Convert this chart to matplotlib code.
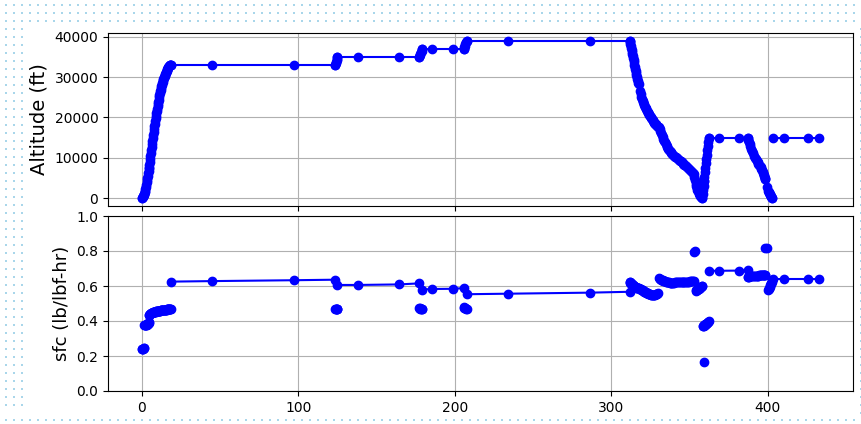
import numpy as np
import matplotlib
matplotlib.use("Agg")
import matplotlib.pyplot as plt

# ---------------- data ----------------
# each mission phase: time (min), altitude (ft), sfc (lb/lbf-hr)
takeoff_t = [0.0, 0.3, 0.6, 0.9, 1.2, 1.5]
takeoff_alt = [0, 100, 250, 450, 700, 1000]
takeoff_sfc = [0.240, 0.240, 0.241, 0.242, 0.243, 0.244]

climb1_t = [1.5, 1.75, 2.0, 2.25, 2.5, 2.75, 3.0, 3.25, 3.5, 3.75, 4.0, 4.25, 4.5]
climb1_alt = [1000, 1400, 1800, 2300, 2800, 3350, 3900, 4450, 5000, 5600, 6200, 6800, 7400]
climb1_sfc = [0.375, 0.375, 0.376, 0.377, 0.378, 0.379, 0.380, 0.381, 0.383, 0.385,
              0.387, 0.389, 0.392]

climb2_t = [4.5, 4.75, 5.0, 5.25, 5.5, 5.75, 6.0, 6.25, 6.5, 6.75, 7.0, 7.25, 7.5, 7.75,
            8.0, 8.25, 8.5, 8.75, 9.0, 9.25, 9.5, 9.75, 10.0, 10.25, 10.5, 10.75, 11.0,
            11.25, 11.5, 11.75, 12.0, 12.25, 12.5, 12.75, 13.0, 13.25, 13.5, 13.75, 14.0,
            14.25, 14.5, 14.75, 15.0, 15.25, 15.5, 15.75, 16.0, 16.25, 16.5, 16.75, 17.0,
            17.25, 17.5, 17.75, 18.0, 18.25, 18.4]
climb2_alt = [7400, 8200, 9000, 9750, 10500, 11250, 12000, 12750, 13500, 14250, 15000,
              15700, 16400, 17100, 17800, 18450, 19100, 19750, 20400, 21000, 21600, 22200,
              22800, 23350, 23900, 24450, 25000, 25500, 26000, 26450, 26900, 27300, 27700,
              28100, 28500, 28850, 29200, 29500, 29800, 30100, 30400, 30650, 30900, 31150,
              31400, 31600, 31800, 32000, 32200, 32350, 32500, 32650, 32800, 32900, 33000,
              33000, 33000]
climb2_sfc = [0.435, 0.437, 0.438, 0.440, 0.441, 0.443, 0.444, 0.446, 0.447, 0.448,
              0.449, 0.450, 0.451, 0.452, 0.453, 0.453, 0.454, 0.454, 0.455, 0.455,
              0.456, 0.456, 0.457, 0.457, 0.458, 0.458, 0.459, 0.459, 0.460, 0.460,
              0.461, 0.461, 0.462, 0.462, 0.462, 0.462, 0.463, 0.463, 0.464, 0.464,
              0.464, 0.464, 0.465, 0.465, 0.465, 0.465, 0.466, 0.466, 0.466, 0.466,
              0.467, 0.467, 0.467, 0.467, 0.468, 0.468, 0.468]

cruise1_t = [18.4, 44.6, 97.2, 123.5]
cruise1_alt = [33000, 33000, 33000, 33000]
cruise1_sfc = [0.625, 0.628, 0.633, 0.636]

step1_t = [123.6, 123.9, 124.2, 124.5, 124.8, 125.0]
step1_alt = [33000, 33400, 33800, 34200, 34600, 35000]
step1_sfc = [0.470, 0.468, 0.467, 0.467, 0.466, 0.466]

cruise2_t = [125.0, 138.0, 164.4, 177.2]
cruise2_alt = [35000, 35000, 35000, 35000]
cruise2_sfc = [0.606, 0.606, 0.609, 0.615]

step2_t = [177.2, 177.6, 178.0, 178.4, 178.8, 179.3]
step2_alt = [35000, 35400, 35800, 36200, 36600, 37000]
step2_sfc = [0.474, 0.472, 0.471, 0.470, 0.469, 0.469]

cruise3_t = [179.3, 185.7, 199.0, 205.6]
cruise3_alt = [37000, 37000, 37000, 37000]
cruise3_sfc = [0.580, 0.583, 0.584, 0.588]

step3_t = [205.6, 206.0, 206.4, 206.8, 207.2, 207.7]
step3_alt = [37000, 37400, 37800, 38200, 38600, 39000]
step3_sfc = [0.478, 0.476, 0.474, 0.472, 0.470, 0.469]

cruise4_t = [207.7, 233.9, 286.2, 311.8]
cruise4_alt = [39000, 39000, 39000, 39000]
cruise4_sfc = [0.553, 0.556, 0.562, 0.567]

descent1_t = [311.8, 312.05, 312.3, 312.55, 312.8, 313.05, 313.3, 313.55, 313.8, 314.05,
              314.3, 314.55, 314.8, 315.05, 315.3, 315.55, 315.8, 316.05, 316.3, 316.6,
              316.9, 317.2, 317.5]
descent1_alt = [39000, 38600, 38200, 37750, 37300, 36800, 36300, 35800, 35300, 34750,
                34200, 33650, 33100, 32550, 32000, 31500, 31000, 30500, 30000, 29500,
                29000, 28600, 28200]
descent1_sfc = [0.625, 0.622, 0.620, 0.617, 0.614, 0.611, 0.609, 0.607, 0.605, 0.603,
                0.601, 0.600, 0.598, 0.596, 0.595, 0.594, 0.592, 0.591, 0.590, 0.589,
                0.588, 0.587, 0.586]

descent2_t = [318.6, 318.95, 319.3, 319.65, 320.0, 320.4, 320.8, 321.2, 321.6, 322.0,
              322.4, 322.8, 323.2, 323.6, 324.0, 324.4, 324.8, 325.2, 325.6, 326.0,
              326.4, 326.8, 327.2, 327.6, 328.0, 328.4, 328.8, 329.2, 329.6]
descent2_alt = [26500, 25800, 25200, 24700, 24200, 23800, 23400, 23050, 22700, 22350,
                22000, 21700, 21400, 21150, 20900, 20650, 20400, 20150, 19900, 19650,
                19400, 19150, 18900, 18700, 18500, 18300, 18100, 17900, 17700]
descent2_sfc = [0.585, 0.582, 0.580, 0.577, 0.575, 0.572, 0.570, 0.568, 0.566, 0.564,
                0.562, 0.560, 0.558, 0.556, 0.555, 0.553, 0.552, 0.551, 0.550, 0.549,
                0.549, 0.549, 0.549, 0.550, 0.551, 0.553, 0.555, 0.557, 0.560]

descent3_t = [330.4, 330.9, 331.4, 331.9, 332.4, 332.9, 333.4, 333.9, 334.4, 334.9,
              335.4, 335.9, 336.4, 336.9, 337.4, 337.9, 338.4, 339.0, 339.6, 340.2,
              340.8, 341.4, 342.0, 342.6, 343.2, 343.8, 344.4, 345.0, 345.6, 346.2,
              346.8, 347.4, 348.0, 348.6, 349.2, 349.8, 350.4, 351.0, 351.6, 352.1,
              352.6]
descent3_alt = [17600, 17100, 16600, 16100, 15600, 15150, 14700, 14250, 13800, 13400,
                13000, 12650, 12300, 12050, 11800, 11550, 11300, 11050, 10800, 10550,
                10300, 10100, 9900, 9700, 9500, 9300, 9100, 8900, 8700, 8500,
                8300, 8100, 7900, 7700, 7500, 7300, 7100, 6850, 6600, 6300,
                6000]
descent3_sfc = [0.644, 0.642, 0.640, 0.637, 0.635, 0.632, 0.630, 0.628, 0.626, 0.624,
                0.623, 0.622, 0.621, 0.621, 0.620, 0.620, 0.620, 0.620, 0.620, 0.620,
                0.621, 0.621, 0.621, 0.621, 0.622, 0.622, 0.622, 0.622, 0.623, 0.623,
                0.623, 0.623, 0.624, 0.624, 0.625, 0.625, 0.626, 0.626, 0.627, 0.627,
                0.628]

descent4a_t = [353.1, 353.6]
descent4a_alt = [5300, 4600]
descent4a_sfc = [0.797, 0.802]

descent4_t = [354.0, 354.35, 354.7, 355.05, 355.4, 355.8, 356.2, 356.6, 357.0, 357.4,
              357.75, 358.1]
descent4_alt = [3600, 3000, 2500, 2100, 1700, 1350, 1000, 700, 450, 250, 100, 0]
descent4_sfc = [0.572, 0.575, 0.577, 0.580, 0.582, 0.585, 0.588, 0.591, 0.594, 0.597,
                0.600, 0.602]

climb3a_t = [359.3]
climb3a_alt = [4200]
climb3a_sfc = [0.167]

climb3_t = [358.4, 358.7, 359.0, 359.3, 359.6, 359.9, 360.2, 360.5, 360.8, 361.1,
            361.4, 361.7, 362.05, 362.4]
climb3_alt = [1000, 2000, 3100, 4200, 5300, 6400, 7500, 8600, 9700, 10800, 11900, 13000,
              14000, 15000]
climb3_sfc = [0.370, 0.372, 0.374, 0.375, 0.377, 0.379, 0.381, 0.383, 0.385, 0.388,
              0.390, 0.393, 0.395, 0.398]

cruise5_t = [362.8, 368.9, 381.5, 387.2]
cruise5_alt = [15000, 15000, 15000, 15000]
cruise5_sfc = [0.687, 0.687, 0.688, 0.690]

descent5_t = [387.2, 387.65, 388.1, 388.55, 389.0, 389.5, 390.0, 390.6, 391.2, 391.8,
              392.4, 393.0, 393.6, 394.1, 394.6, 395.05, 395.5, 395.9, 396.3, 396.7,
              397.1, 397.5, 397.9, 398.25, 398.6]
descent5_alt = [15000, 14500, 14000, 13450, 12900, 12300, 11700, 11100, 10500, 10050,
                9600, 9250, 8900, 8550, 8200, 7900, 7600, 7250, 6900, 6600,
                6300, 5850, 5400, 5050, 4700]
descent5_sfc = [0.652, 0.653, 0.654, 0.655, 0.656, 0.656, 0.657, 0.657, 0.658, 0.658,
                0.659, 0.659, 0.660, 0.660, 0.661, 0.661, 0.661, 0.662, 0.662, 0.662,
                0.662, 0.663, 0.663, 0.663, 0.663]

descent6a_t = [398.6, 399.8]
descent6a_alt = [4700, 2800]
descent6a_sfc = [0.815, 0.818]

descent6_t = [400.4, 400.7, 401.0, 401.3, 401.6, 401.9, 402.2, 402.55, 402.9]
descent6_alt = [1800, 1450, 1200, 950, 700, 500, 300, 150, 0]
descent6_sfc = [0.575, 0.581, 0.588, 0.595, 0.603, 0.610, 0.618, 0.625, 0.632]

reserve_t = [403.2, 410.5, 425.6, 432.9]
reserve_alt = [15000, 15000, 15000, 15000]
reserve_sfc = [0.638, 0.638, 0.638, 0.638]

phases = [
    (takeoff_t, takeoff_alt, takeoff_sfc),
    (climb1_t, climb1_alt, climb1_sfc),
    (climb2_t, climb2_alt, climb2_sfc),
    (cruise1_t, cruise1_alt, cruise1_sfc),
    (step1_t, step1_alt, step1_sfc),
    (cruise2_t, cruise2_alt, cruise2_sfc),
    (step2_t, step2_alt, step2_sfc),
    (cruise3_t, cruise3_alt, cruise3_sfc),
    (step3_t, step3_alt, step3_sfc),
    (cruise4_t, cruise4_alt, cruise4_sfc),
    (descent1_t, descent1_alt, descent1_sfc),
    (descent2_t, descent2_alt, descent2_sfc),
    (descent3_t, descent3_alt, descent3_sfc),
    (descent4a_t, descent4a_alt, descent4a_sfc),
    (descent4_t, descent4_alt, descent4_sfc),
    (climb3a_t, climb3a_alt, climb3a_sfc),
    (climb3_t, climb3_alt, climb3_sfc),
    (cruise5_t, cruise5_alt, cruise5_sfc),
    (descent5_t, descent5_alt, descent5_sfc),
    (descent6a_t, descent6a_alt, descent6a_sfc),
    (descent6_t, descent6_alt, descent6_sfc),
    (reserve_t, reserve_alt, reserve_sfc),
]

# ---------------- figure ----------------
W, H = 862, 424
fig = plt.figure(figsize=(W / 100, H / 100), dpi=100)

# decorative dotted frame (page background)
bg = fig.add_axes([0, 0, 1, 1], zorder=-10)
bg.set_xlim(0, W)
bg.set_ylim(H, 0)
bg.axis("off")
xs_all = np.arange(6, W, 8)
dots_x, dots_y = [], []
for yy in (5, 13, 21):
    dots_x += list(xs_all); dots_y += [yy] * len(xs_all)
for xx in (6, 14, 22):
    ys = np.arange(29, 412, 8)
    dots_x += [xx] * len(ys); dots_y += list(ys)
dots_x += list(xs_all); dots_y += [420] * len(xs_all)
ys = np.arange(29, 420, 8)
dots_x += [861] * len(ys); dots_y += list(ys)
bg.scatter(dots_x, dots_y, s=1.8, marker="s", color="#a9d6ea", linewidths=0)

def fx(px):
    return px / W

def fy(py):
    return 1 - py / H

ax1 = fig.add_axes([fx(108), fy(206), fx(853) - fx(108), fy(33) - fy(206)])
ax2 = fig.add_axes([fx(108), fy(391), fx(853) - fx(108), fy(216) - fy(391)], sharex=ax1)

for t, alt, sfc in phases:
    ax1.plot(t, alt, "bo-")
    ax2.plot(t, sfc, "bo-")

ax1.set_ylabel("Altitude (ft)", fontsize=14)
ax2.set_ylabel("sfc (lb/lbf-hr)", fontsize=13)
ax2.set_ylim(0, 1.0)
ax1.set_yticks([0, 10000, 20000, 30000, 40000])
ax2.set_yticks([0.0, 0.2, 0.4, 0.6, 0.8, 1.0])
ax2.set_xticks([0, 100, 200, 300, 400])
ax1.tick_params(labelbottom=False)
ax1.grid(True)
ax2.grid(True)

fig.savefig("out.png", dpi=100)
